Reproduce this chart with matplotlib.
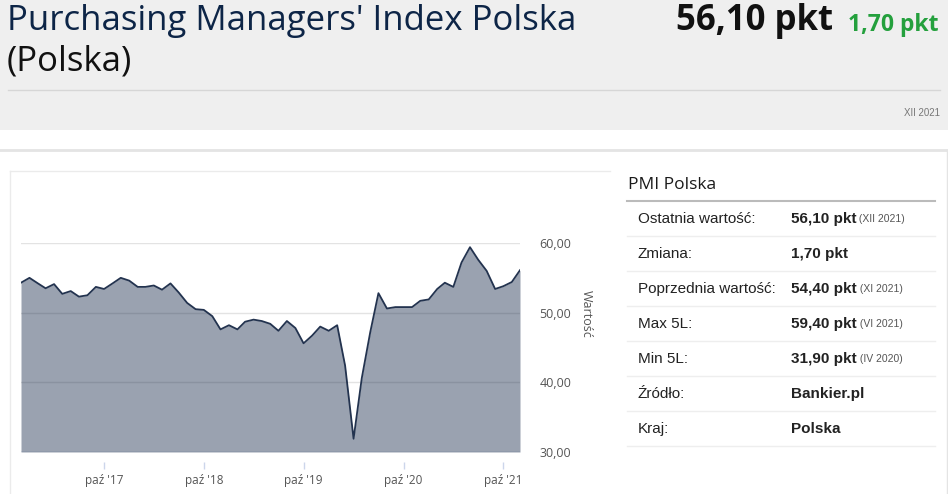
import numpy as np
import pandas as pd
import matplotlib
matplotlib.use("Agg")
import matplotlib.pyplot as plt

# Dane: PMI Polska, miesiecznie XII 2016 - XII 2021
miesiace = pd.date_range("2016-12-01", "2021-12-01", freq="MS")
pmi = [54.3,
       55.0, 54.2, 53.5, 54.1, 52.7, 53.1, 52.3, 52.5, 53.7, 53.4, 54.2, 55.0,
       54.6, 53.7, 53.7, 53.9, 53.3, 54.2, 52.9, 51.4, 50.5, 50.4, 49.5, 47.6,
       48.2, 47.6, 48.7, 49.0, 48.8, 48.4, 47.4, 48.8, 47.8, 45.6, 46.7, 48.0,
       47.4, 48.2, 42.4, 31.9, 40.6, 47.2, 52.8, 50.6, 50.8, 50.8, 50.8, 51.7,
       51.9, 53.4, 54.3, 53.7, 57.2, 59.4, 57.6, 56.0, 53.4, 53.8, 54.4, 56.1]

y_ticks = [30, 40, 50, 60]
x_ticks = pd.to_datetime(["2017-10-01", "2018-10-01", "2019-10-01", "2020-10-01", "2021-10-01"])
x_labels = ["paź '17", "paź '18", "paź '19", "paź '20", "paź '21"]

tabela_etykiety = ["Ostatnia wartość:", "Zmiana:", "Poprzednia wartość:", "Max 5L:",
                   "Min 5L:", "Źródło:", "Kraj:"]
tabela_wartosci = ["56,10 pkt", "1,70 pkt", "54,40 pkt", "59,40 pkt", "31,90 pkt",
                   "Bankier.pl", "Polska"]
tabela_daty = ["(XII 2021)", "", "(XI 2021)", "(VI 2021)", "(IV 2020)", "", ""]

W, H = 948, 494
fig = plt.figure(figsize=(W / 100, H / 100), dpi=100)

# tlo w pikselach
bg = fig.add_axes([0, 0, 1, 1], zorder=0)
bg.set_xlim(0, W)
bg.set_ylim(H, 0)
bg.axis("off")

# naglowek
bg.add_patch(plt.Rectangle((0, 0), W, 130, color="#efefef", lw=0))
bg.plot([8, 940], [90, 90], color="#d6d6d6", lw=1)
bg.text(7, 21, "Purchasing Managers' Index Polska", fontsize=25, family="Open Sans",
        color="#0d2547", va="center", ha="left")
bg.text(7, 62, "(Polska)", fontsize=25, family="Open Sans", color="#111111",
        va="center", ha="left")
bg.text(833, 21, "56,10 pkt", fontsize=25, family="Open Sans", weight="bold",
        color="#111111", va="center", ha="right")
bg.text(939, 25, "1,70 pkt", fontsize=16.5, family="Open Sans", weight="bold",
        color="#24a03d", va="center", ha="right")
bg.text(940, 113, "XII 2021", fontsize=7, family="Liberation Sans", color="#777777",
        va="center", ha="right")

# ramki
bg.plot([0, W], [150, 150], color="#e4e4e4", lw=2)
bg.plot([947, 947], [150, H], color="#e4e4e4", lw=1)
bg.plot([10, 610], [171, 171], color="#ebebeb", lw=1)
bg.plot([10, 10], [171, H], color="#ebebeb", lw=1)

# tabela
bg.text(628, 185, "PMI Polska", fontsize=12.5, family="Open Sans", color="#1a1a1a",
        va="center", ha="left")
bg.plot([627, 935], [201, 201], color="#bbbbbb", lw=1.5)
for i, (et, wa, da) in enumerate(zip(tabela_etykiety, tabela_wartosci, tabela_daty)):
    yc = 219 + i * 35
    bg.text(638, yc, et, fontsize=11, family="Liberation Sans", color="#222222",
            va="center", ha="left")
    t = bg.text(791, yc, wa, fontsize=11, family="Liberation Sans", weight="bold",
                color="#222222", va="center", ha="left")
    if da:
        bg.annotate(" " + da, xycoords=t, xy=(1, 0.5), va="center", ha="left",
                    fontsize=7.5, family="Liberation Sans", color="#555555")
    bg.plot([627, 935], [yc + 17, yc + 17], color="#eeeeee", lw=1)

# wykres
x0, x1, yb, yt = 21, 520, 452, 243
ax = fig.add_axes([x0 / W, (H - yb) / H, (x1 - x0) / W, (yb - yt) / H], zorder=1)
ax.patch.set_alpha(0)
ax.set_xlim(miesiace[0], miesiace[-1])
ax.set_ylim(30, 60)

for v in y_ticks[1:]:
    ax.axhline(v, color="#e3e3e3", lw=1, zorder=1)
ax.axhline(30, color="#e8ecf2", lw=1.2, zorder=1)

ax.fill_between(miesiace, pmi, 30, color="#1f3150", alpha=0.45, lw=0, zorder=2)
ax.plot(miesiace, pmi, color="#23334f", lw=1.3, zorder=3)

for s in ["top", "left", "right"]:
    ax.spines[s].set_visible(False)
ax.spines["bottom"].set_position(("outward", 7))
ax.spines["bottom"].set_visible(False)

ax.set_xticks(x_ticks)
ax.set_xticklabels(x_labels)
ax.tick_params(axis="x", length=5, width=1, color="#ccd6eb", pad=4,
               labelsize=8.5, labelcolor="#555555")

ax.yaxis.tick_right()
ax.set_yticks(y_ticks)
ax.set_yticklabels([f"{v:.2f}".replace(".", ",") for v in y_ticks])
ax.tick_params(axis="y", length=0, pad=14, labelsize=9, labelcolor="#555555")
for lab in ax.get_xticklabels() + ax.get_yticklabels():
    lab.set_family("Open Sans")

bg.text(586, 314, "Wartość", rotation=270, fontsize=9, family="Open Sans",
        color="#555555", va="center", ha="center")

plt.savefig("out.png", dpi=100)
plt.close()
